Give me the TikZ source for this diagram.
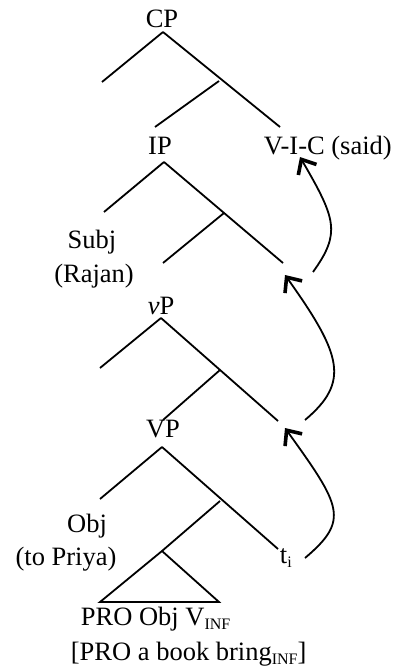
\documentclass[tikz,border=0pt]{standalone}
\usepackage{fontspec}
\setmainfont{Liberation Serif}
\usetikzlibrary{arrows.meta}
\newcommand{\lowtxt}[1]{\raisebox{-4pt}{\fontsize{16}{16}\selectfont #1}}

\begin{document}
\begin{tikzpicture}[x=1pt, y=-1pt, line width=1.8pt,
    lbl/.style={inner sep=0pt, anchor=base, font=\fontsize{26.5}{30}\selectfont},
    move/.style={-{Straight Barb[length=12pt,width=21pt,line width=3.6pt]}}]
    \useasboundingbox (0,0) rectangle (394,666);
    % labels
    \node[lbl] (cp) at (162,28) {CP};
    \node[lbl] (ip) at (160,154) {IP};
    \node[lbl, anchor=base west] (vic) at (263,154) {V-I-C (said)};
    \node[lbl] (subj) at (92,248) {Subj};
    \node[lbl] (rajan) at (94,282) {(Rajan)};
    \node[lbl] (vp) at (161,314) {\textit{v}P};
    \node[lbl] (bigvp) at (163,437) {VP};
    \node[lbl] (obj) at (87,532) {Obj};
    \node[lbl] (priya) at (66,565) {(to Priya)};
    \node[lbl, anchor=base west] (trace) at (279,563) {t\lowtxt{i}};
    \node[lbl, anchor=base west] (inf) at (80,625) {PRO Obj V\lowtxt{INF}};
    \node[lbl, anchor=base west] (gloss) at (70,660) {[PRO a book bring\lowtxt{INF}]};
    % branch points
    \coordinate (c0) at (163,32);   \coordinate (cL) at (102,82);
    \coordinate (cM) at (219,81);   \coordinate (cR) at (280,127);
    \coordinate (cML) at (155,127);
    \coordinate (i0) at (164,162);  \coordinate (iL) at (104,212);
    \coordinate (iM) at (224,213);  \coordinate (iR) at (283,263);
    \coordinate (iML) at (163,263);
    \coordinate (v0) at (161,318);  \coordinate (vL) at (100,368);
    \coordinate (vM) at (220,370);  \coordinate (vR) at (278,421);
    \coordinate (vML) at (163,420);
    \coordinate (V0) at (162,447);  \coordinate (VL) at (100,499);
    \coordinate (VM) at (220,501);  \coordinate (VR) at (278,549);
    \coordinate (t0) at (162,551);  \coordinate (tL) at (100,602);
    \coordinate (tR) at (219,602);
    % tree
    \draw (c0) -- (cL);
    \draw (c0) -- (cR);
    \draw (cM) -- (cML);
    \draw (i0) -- (iL);
    \draw (i0) -- (iR);
    \draw (iM) -- (iML);
    \draw (v0) -- (vL);
    \draw (v0) -- (vR);
    \draw (vM) -- (vML);
    \draw (V0) -- (VL);
    \draw (V0) -- (VR);
    \draw (VM) -- (t0);
    \draw (t0) -- (tL) -- (tR) -- cycle;
    % head movement
    \coordinate (m1a) at (305,558); \coordinate (m1b) at (285,428);
    \coordinate (m2a) at (305,420); \coordinate (m2b) at (285,275);
    \coordinate (m3a) at (313,272); \coordinate (m3b) at (300,157);
    \draw[move] (m1a) .. controls (350,520) and (341,506) .. (m1b);
    \draw[move] (m2a) .. controls (350,382) and (342,355) .. (m2b);
    \draw[move] (m3a) .. controls (341,233) and (336,219) .. (m3b);
\end{tikzpicture}
\end{document}
